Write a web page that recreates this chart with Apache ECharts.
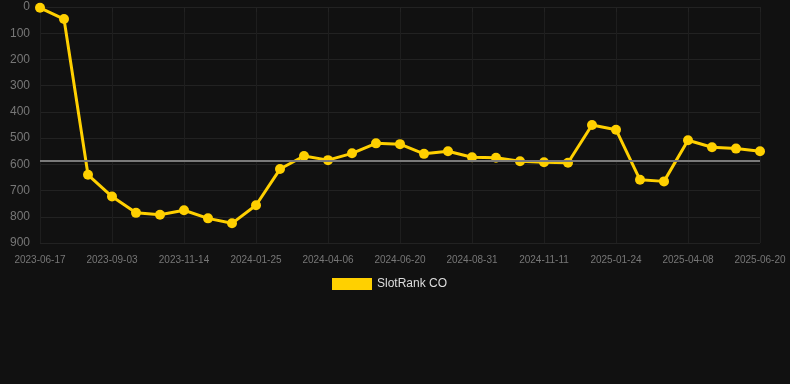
<!DOCTYPE html>
<html>
<head>
<meta charset="utf-8">
<script src="https://cdn.jsdelivr.net/npm/echarts@6/dist/echarts.min.js"></script>
<style>
html,body{margin:0;padding:0;background:#111111;}
#chart{width:790px;height:384px;}
</style>
</head>
<body>
<div id="chart"></div>
<script>
var dates = [
  '2023-06-17','2023-07-13','2023-08-08','2023-09-03','2023-09-27','2023-10-21','2023-11-14','2023-12-08','2024-01-01','2024-01-25',
  '2024-02-18','2024-03-13','2024-04-06','2024-05-01','2024-05-26','2024-06-20','2024-07-14','2024-08-07','2024-08-31','2024-09-24',
  '2024-10-18','2024-11-11','2024-12-06','2024-12-31','2025-01-24','2025-02-17','2025-03-14','2025-04-08','2025-05-02','2025-05-26',
  '2025-06-20'
];
var rankValues = [
  3, 46, 640, 723, 785, 792, 775, 806, 825, 756,
  618, 568, 584, 558, 520, 523, 560, 550, 573, 575,
  588, 592, 594, 450, 468, 659, 665, 508, 535, 540,
  550
];
var seriesName = 'SlotRank CO';
var referenceLevel = 585;

var font = 'Liberation Sans, Arial, sans-serif';
var chart = echarts.init(document.getElementById('chart'));
chart.setOption({
  backgroundColor: '#111111',
  animation: false,
  grid: { left: 40, right: 30, top: 7, bottom: 141 },
  legend: {
    data: [seriesName],
    top: 273,
    left: 327,
    itemWidth: 40,
    itemHeight: 12,
    itemGap: 10,
    icon: 'rect',
    textStyle: { color: '#dddddd', fontSize: 12, fontFamily: font }
  },
  xAxis: {
    type: 'category',
    data: dates,
    boundaryGap: false,
    axisLine: { show: true, lineStyle: { color: '#222222' } },
    axisTick: { show: true, interval: 2, lineStyle: { color: '#222222' } },
    axisLabel: { interval: 2, color: '#777777', fontSize: 10, margin: 12, fontFamily: font },
    splitLine: { show: true, interval: 2, lineStyle: { color: '#1e1e1e' } }
  },
  yAxis: {
    type: 'value',
    inverse: true,
    min: 0,
    max: 900,
    interval: 100,
    axisLine: { show: false },
    axisTick: { show: false },
    axisLabel: { color: '#777777', fontSize: 12, margin: 10, fontFamily: font },
    splitLine: { show: true, lineStyle: { color: '#222222' } }
  },
  series: [{
    name: 'reference',
    type: 'line',
    data: rankValues,
    symbol: 'none',
    lineStyle: { opacity: 0 },
    silent: true,
    z: 1,
    markLine: {
      silent: true,
      symbol: ['none', 'none'],
      label: { show: false },
      lineStyle: { color: '#7a7a7a', width: 2, type: 'solid' },
      data: [{ yAxis: referenceLevel }]
    }
  }, {
    name: seriesName,
    type: 'line',
    data: rankValues,
    symbol: 'circle',
    symbolSize: 10,
    color: '#FFD000',
    lineStyle: { width: 3, color: '#FFD000' },
    itemStyle: { color: '#FFD000' },
    z: 3
  }]
});
</script>
</body>
</html>
